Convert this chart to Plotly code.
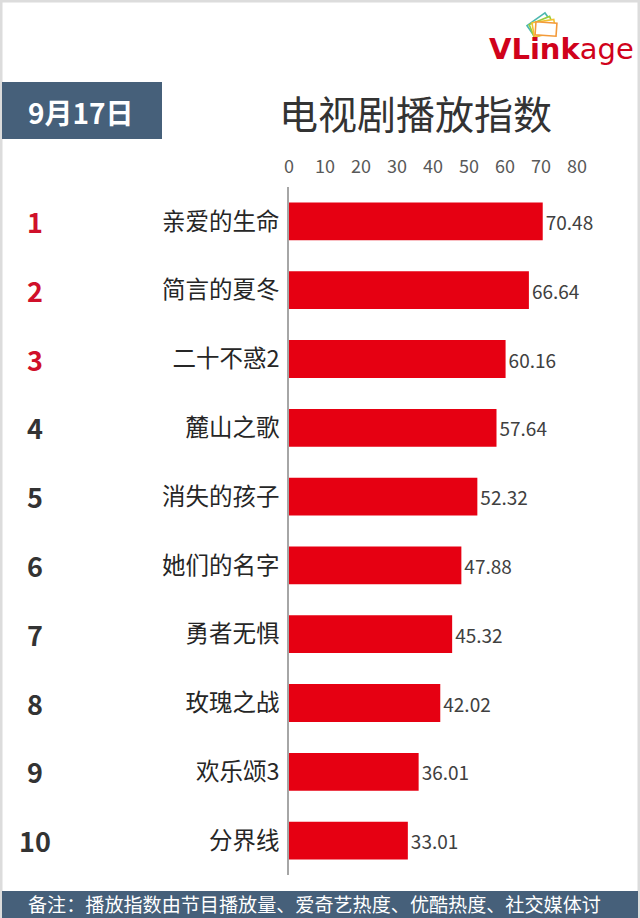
import math
import plotly.graph_objects as go

# ---- data ----
ranks = ["1", "2", "3", "4", "5", "6", "7", "8", "9", "10"]
dramas = ["亲爱的生命", "简言的夏冬", "二十不惑2", "麓山之歌", "消失的孩子",
          "她们的名字", "勇者无惧", "玫瑰之战", "欢乐颂3", "分界线"]
index_values = [70.48, 66.64, 60.16, 57.64, 52.32, 47.88, 45.32, 42.02, 36.01, 33.01]
x_ticks = [0, 10, 20, 30, 40, 50, 60, 70, 80]
date_label = "9月17日"
title_text = "电视剧播放指数"
footer_text = "备注：播放指数由节目播放量、爱奇艺热度、优酷热度、社交媒体讨"

# ---- layout geometry (pixels) ----
W, H = 640, 918
L, R, T, B = 289, 63, 187, 43
PW, PH = W - L - R, H - T - B

def px(x):
    return (x - L) / PW

def py(y):
    return (H - B - y) / PH

FONT = "Noto Sans CJK SC"
SLATE = "#46607a"
RED = "#e60012"

fig = go.Figure()
fig.add_trace(go.Bar(
    x=index_values, y=dramas, orientation="h",
    marker=dict(color=RED, line=dict(width=0)),
    text=[f"{v:.2f}" for v in index_values],
    textposition="outside", cliponaxis=False,
    textfont=dict(family=FONT, size=19, color="#404040"),
    hoverinfo="skip",
))

shapes = []
# outer border
shapes.append(dict(type="rect", xref="paper", yref="paper",
                   x0=px(1), x1=px(W - 1), y0=py(1), y1=py(H - 1),
                   line=dict(color="#dcdcdc", width=3), layer="below"))
# date box
shapes.append(dict(type="rect", xref="paper", yref="paper",
                   x0=px(2), x1=px(162), y0=py(82), y1=py(139),
                   fillcolor=SLATE, line=dict(width=0)))
# footer band
shapes.append(dict(type="rect", xref="paper", yref="paper",
                   x0=px(2), x1=px(638), y0=py(891), y1=py(H + 2),
                   fillcolor=SLATE, line=dict(width=0)))

# logo icon: stacked tilted cards
def card(cx, cy, w, h, ang, color):
    a = math.radians(ang)
    pts = []
    for dx, dy in [(-w/2, -h/2), (w/2, -h/2), (w/2, h/2), (-w/2, h/2)]:
        x = cx + dx * math.cos(a) - dy * math.sin(a)
        y = cy + dx * math.sin(a) + dy * math.cos(a)
        pts.append((px(x), py(y)))
    path = "M " + " L ".join(f"{x:.5f},{y:.5f}" for x, y in pts) + " Z"
    return dict(type="path", xref="paper", yref="paper", path=path,
                fillcolor="white", line=dict(color=color, width=1.6))

shapes.append(card(540, 25, 22, 14, -35, "#4db8b0"))
shapes.append(card(542, 27, 22, 14, -22, "#9ccc3c"))
shapes.append(card(544, 28, 22, 14, -9, "#f2c230"))
shapes.append(card(546, 29, 21, 13, 4, "#f39a3a"))

annotations = []
# rank numbers
for i, (rk, name) in enumerate(zip(ranks, dramas)):
    annotations.append(dict(
        x=px(35), xref="paper", y=name, yref="y", text=f"<b>{rk}</b>",
        showarrow=False, xanchor="center", yanchor="middle",
        font=dict(family=FONT, size=27, color="#d0102a" if i < 3 else "#333333")))
# date text
annotations.append(dict(x=px(81), y=py(112), xref="paper", yref="paper",
                        text=f"<b>{date_label}</b>", showarrow=False,
                        font=dict(family=FONT, size=28, color="white"),
                        xanchor="center", yanchor="middle"))
# title
annotations.append(dict(x=px(415), y=py(112), xref="paper", yref="paper",
                        text=title_text, showarrow=False,
                        font=dict(family=FONT, size=39, color="#333333"),
                        xanchor="center", yanchor="middle"))
# logo text
annotations.append(dict(x=px(487), y=py(49), xref="paper", yref="paper",
                        text="<b>VLink</b>age", showarrow=False,
                        font=dict(family="DejaVu Sans", size=29, color="#d0021b"),
                        xanchor="left", yanchor="middle"))
# footer
annotations.append(dict(x=px(26), y=py(904), xref="paper", yref="paper",
                        text=footer_text, showarrow=False,
                        font=dict(family=FONT, size=19.1, color="white"),
                        xanchor="left", yanchor="middle"))

fig.update_layout(
    width=W, height=H,
    margin=dict(l=L, r=R, t=T, b=B, pad=0),
    paper_bgcolor="white", plot_bgcolor="white",
    showlegend=False, bargap=0.45,
    shapes=shapes, annotations=annotations,
    font=dict(family=FONT),
    xaxis=dict(range=[0, 80], tickvals=x_ticks, side="top", showgrid=False,
               zeroline=False, showline=False, ticks="outside", ticklen=6,
               tickcolor="rgba(0,0,0,0)",
               tickfont=dict(family=FONT, size=18, color="#595959"), fixedrange=True),
    yaxis=dict(autorange="reversed", showgrid=False, zeroline=False,
               showline=True, linecolor="#a6a6a6", linewidth=1.5,
               ticks="outside", ticklen=3, tickcolor="rgba(0,0,0,0)",
               tickfont=dict(family=FONT, size=23.5, color="#262626"), fixedrange=True),
)

fig.write_html("out.html", config={"displayModeBar": False},
               post_script="document.body.style.margin='0';document.body.style.overflow='hidden';")
